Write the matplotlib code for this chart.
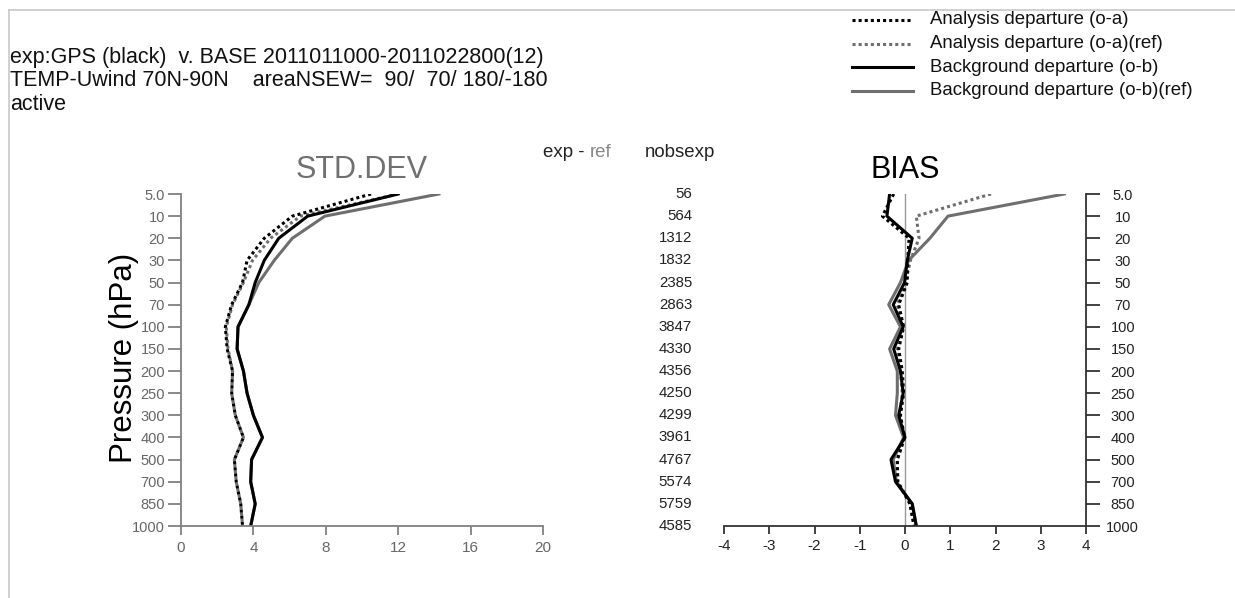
import matplotlib
matplotlib.use('Agg')
import matplotlib.pyplot as plt
from matplotlib.lines import Line2D
import matplotlib.transforms as mtransforms

plt.rcParams['font.family'] = ['Liberation Sans', 'DejaVu Sans']
plt.rcParams['axes.unicode_minus'] = False

W, H = 1235, 598

levels = ['5.0', '10', '20', '30', '50', '70', '100', '150', '200', '250',
          '300', '400', '500', '700', '850', '1000']
nobsexp = [56, 564, 1312, 1832, 2385, 2863, 3847, 4330, 4356, 4250,
           4299, 3961, 4767, 5574, 5759, 4585]

# STD.DEV
std_oa = [10.5, 6.15, 4.6, 3.65, 3.4, 2.8, 2.45, 2.55, 2.85, 2.8,
          3.0, 3.45, 2.95, 3.05, 3.3, 3.4]
std_oa_ref = [12.0, 6.6, 4.95, 3.95, 3.45, 2.85, 2.5, 2.6, 2.85, 2.8,
              3.0, 3.45, 2.95, 3.05, 3.3, 3.4]
std_ob = [12.0, 7.0, 5.4, 4.6, 4.1, 3.75, 3.15, 3.1, 3.45, 3.65,
          4.0, 4.5, 3.9, 3.85, 4.1, 3.85]
std_ob_ref = [14.25, 7.95, 6.15, 5.15, 4.3, 3.75, 3.15, 3.1, 3.45, 3.65,
              4.0, 4.5, 3.9, 3.85, 4.1, 3.85]

# BIAS
bias_oa = [-0.25, -0.5, 0.09, 0.06, 0.05, -0.14, -0.03, -0.14, -0.06, -0.03,
           -0.1, -0.01, -0.17, -0.16, 0.11, 0.2]
bias_oa_ref = [1.9, 0.25, 0.31, 0.12, 0.01, -0.17, -0.04, -0.17, -0.1, -0.06,
               -0.11, -0.01, -0.17, -0.16, 0.11, 0.2]
bias_ob = [-0.34, -0.4, 0.16, 0.05, -0.01, -0.26, -0.04, -0.25, -0.1, -0.04,
           -0.14, 0.0, -0.31, -0.21, 0.16, 0.25]
bias_ob_ref = [3.52, 0.95, 0.55, 0.08, -0.1, -0.36, -0.1, -0.34, -0.17, -0.17,
               -0.21, -0.03, -0.26, -0.19, 0.16, 0.25]

legend_labels = ['Analysis departure (o-a)', 'Analysis departure (o-a)(ref)',
                 'Background departure (o-b)', 'Background departure (o-b)(ref)']

GREY = '#6e6e6e'
DOT = (0, (1, 1))
LW = 2.2

fig = plt.figure(figsize=(W / 100, H / 100), dpi=100)


def fx(px):
    return px / W


def fy(py):
    return 1 - py / H


yi = list(range(len(levels)))

# left panel: STD.DEV
ax1 = fig.add_axes([fx(181), fy(526), fx(362), 332 / H])
ax1.plot(std_ob_ref, yi, color=GREY, lw=LW)
ax1.plot(std_oa_ref, yi, color=GREY, lw=LW, ls=DOT)
ax1.plot(std_ob, yi, color='black', lw=LW)
ax1.plot(std_oa, yi, color='black', lw=LW, ls=DOT)
ax1.set_xlim(0, 20)
ax1.set_ylim(len(levels) - 1, 0)
ax1.set_xticks([0, 4, 8, 12, 16, 20])
ax1.set_yticks(yi)
ax1.set_yticklabels(levels)
for s in ['top', 'right']:
    ax1.spines[s].set_visible(False)
for s in ['left', 'bottom']:
    ax1.spines[s].set_color('#808080')
    ax1.spines[s].set_linewidth(1.3)
ax1.tick_params(axis='y', length=9.5, width=1.3, color='#808080',
                labelcolor='#666666', labelsize=10.5, pad=2)
ax1.tick_params(axis='x', length=6.5, width=1.3, color='#808080',
                labelcolor='#666666', labelsize=11, pad=4)
ax1.patch.set_visible(False)

# right panel: BIAS
ax2 = fig.add_axes([fx(724), fy(526), fx(362), 332 / H])
ax2.axvline(0, color='#999999', lw=1)
ax2.plot(bias_ob_ref, yi, color=GREY, lw=LW)
ax2.plot(bias_oa_ref, yi, color=GREY, lw=LW, ls=DOT)
ax2.plot(bias_ob, yi, color='black', lw=LW)
ax2.plot(bias_oa, yi, color='black', lw=LW, ls=DOT)
ax2.set_xlim(-4, 4)
ax2.set_ylim(len(levels) - 1, 0)
ax2.set_xticks(range(-4, 5))
ax2.set_yticks(yi)
ax2.set_yticklabels(levels)
ax2.yaxis.tick_right()
for s in ['top', 'left']:
    ax2.spines[s].set_visible(False)
for s in ['right', 'bottom']:
    ax2.spines[s].set_color('#333333')
    ax2.spines[s].set_linewidth(1.3)
ax2.tick_params(axis='y', length=10, width=1.3, color='#333333',
                labelcolor='#222222', labelsize=10.5, pad=6)
ax2.tick_params(axis='x', length=5.5, width=1.3, color='#333333',
                labelcolor='#222222', labelsize=11, pad=4)
for lab in ax2.get_yticklabels():
    lab.set_horizontalalignment('center')
    lab.set_x(1.04)
ax2.patch.set_visible(False)

# nobsexp column
tr = mtransforms.blended_transform_factory(fig.transFigure, ax2.transData)
for i, n in enumerate(nobsexp):
    fig.text(fx(692), i, str(n), transform=tr, ha='right', va='center',
             fontsize=10.8, color='#222222')

# titles
fig.text(fx(362), fy(178), 'STD.DEV', ha='center', va='baseline',
         fontsize=22, color='#707070')
fig.text(fx(905), fy(178), 'BIAS', ha='center', va='baseline',
         fontsize=22, color='black')
fig.text(fx(124), fy(358), 'Pressure (hPa)', rotation=90, ha='center',
         va='center', fontsize=22.5, color='black')
fig.text(fx(543), fy(152), 'exp -', ha='left', va='center', fontsize=13.4,
         color='#222222')
fig.text(fx(590), fy(152), 'ref', ha='left', va='center', fontsize=13.4,
         color='#888888')
fig.text(fx(645), fy(152), 'nobsexp', ha='left', va='center', fontsize=13.4,
         color='#222222')

# header
header = ['exp:GPS (black)  v. BASE 2011011000-2011022800(12)',
          'TEMP-Uwind 70N-90N    areaNSEW=  90/  70/ 180/-180',
          'active']
for k, line in enumerate(header):
    fig.text(fx(10), fy(57 + 23.5 * k), line, ha='left', va='center',
             fontsize=15.5, color='#111111')

# legend
styles = [('black', DOT), (GREY, DOT), ('black', '-'), (GREY, '-')]
for k, (lab, (c, ls)) in enumerate(zip(legend_labels, styles)):
    yy = fy(20 + 23.5 * k)
    fig.add_artist(Line2D([fx(852), fx(913)], [yy, yy], color=c, ls=ls, lw=LW))
    fig.text(fx(930), yy, lab, ha='left', va='center', fontsize=13.4,
             color='#111111')

# frame
fig.add_artist(Line2D([fx(8.5), fx(8.5)], [fy(10), 0], color='#c8c8c8', lw=1.2))
fig.add_artist(Line2D([fx(8.5), 1], [fy(10), fy(10)], color='#c8c8c8', lw=1.2))

fig.savefig('out.png', dpi=100)
